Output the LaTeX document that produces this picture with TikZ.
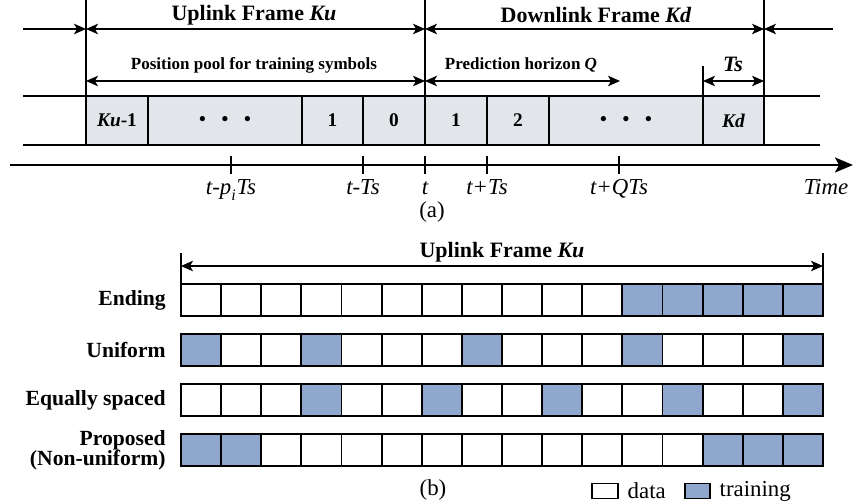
\documentclass[tikz,border=0pt]{standalone}
\usepackage{fontspec}
\setmainfont{Liberation Serif}
\usepackage{xcolor}
\usepackage{tikz}
\usetikzlibrary{
    positioning,
    arrows.meta,
    calc
}
\definecolor{slotgray}{RGB}{226,229,234}
\definecolor{trainblue}{RGB}{143,166,205}
\newcommand{\pxl}{0.02cm}
\tikzset{
  dim/.style = {
      line width=0.7pt,
      >={Stealth[length=2.4mm,width=2.1mm,inset=0.6mm]}
  },
  frameline/.style = {
      line width=0.7pt
  },
  slot/.style = {
      draw,
      line width=0.7pt,
      rectangle,
      fill=slotgray,
      inner sep=0pt,
      outer sep=0pt,
      minimum height=49*\pxl,
      font=\fontsize{11}{13}\selectfont\bfseries
  },
  cell/.style = {
      draw,
      line width=1.1pt,
      rectangle,
      inner sep=0pt,
      outer sep=0pt,
      minimum width=40.125*\pxl,
      minimum height=32*\pxl
  },
  cell0/.style = {
      cell,
      fill=white
  },
  cell1/.style = {
      cell,
      fill=trainblue
  },
  framelabel/.style = {
      font=\fontsize{12.5}{14}\selectfont\bfseries
  },
  poollabel/.style = {
      font=\fontsize{9.7}{11}\selectfont\bfseries
  },
  ticklabel/.style = {
      font=\fontsize{13}{15}\selectfont\itshape,
      anchor=base
  },
  rowlabel/.style = {
      font=\fontsize{12.3}{11.5}\selectfont\bfseries,
      align=right,
      anchor=east,
      inner sep=0pt
  },
  caption/.style = {
      font=\fontsize{13}{15}\selectfont
  }
}

\begin{document}
\begin{tikzpicture}[x=0.02cm, y=-0.02cm]
    \useasboundingbox (0,0) rectangle (856,503);
    % Frame borders
    \coordinate (f0t) at (86,0);   \coordinate (f0b) at (86,145);
    \coordinate (f1t) at (425,0);  \coordinate (f1b) at (425,145);
    \coordinate (f2t) at (764,0);  \coordinate (f2b) at (764,145);
    \coordinate (tst) at (703,66); \coordinate (tsb) at (703,145);
    \draw[frameline] (f0t) -- (f0b) (f1t) -- (f1b) (f2t) -- (f2b) (tst) -- (tsb);
    % Frame arrows
    \coordinate (a0) at (23,29);
    \coordinate (a1) at (86,29);
    \coordinate (a2) at (425,29);
    \coordinate (a3) at (764,29);
    \coordinate (a4) at (833,29);
    \path[dim]
    (a0) edge[->] (a1)
    (a1) edge[<->] (a2)
    (a2) edge[<->] (a3)
    (a4) edge[->] (a3);
    \node[framelabel] (uplink) at (254,15) {Uplink Frame \textit{Ku}};
    \node[framelabel] (downlink) at (596,15) {Downlink Frame \textit{Kd}};
    % Pool, horizon and symbol period
    \coordinate (p0) at (86,81);
    \coordinate (p1) at (425,81);
    \coordinate (q1) at (620,81);
    \coordinate (ts0) at (703,81);
    \coordinate (ts1) at (764,81);
    \path[dim]
    (p0) edge[<->] (p1)
    (p1) edge[<->] (q1)
    (ts0) edge[<->] (ts1);
    \node[poollabel] (pool) at (254,65) {Position pool for training symbols};
    \node[poollabel] (horizon) at (521,65) {Prediction horizon \textit{Q}};
    \node[framelabel] (tslab) at (733,64) {\textit{Ts}};
    % Symbol slots
    \foreach \l/\r/\txt [count=\i] in {
        86/148/{\textit{Ku}-1},
        148/302/{\textbullet\hspace{9pt}\textbullet\hspace{9pt}\textbullet},
        302/363/1,
        363/425/0,
        425/487/1,
        487/549/2,
        549/703/{\textbullet\hspace{9pt}\textbullet\hspace{9pt}\textbullet},
        703/764/{\textit{Kd}}}
      \node[slot, minimum width={(\r-\l)*\pxl}, anchor=north west] (s\i) at (\l,96) {\txt};
    \coordinate (rt0) at (23,96);  \coordinate (rt1) at (820,96);
    \coordinate (rb0) at (23,145); \coordinate (rb1) at (820,145);
    \draw[frameline] (rt0) -- (rt1) (rb0) -- (rb1);
    % Time axis
    \coordinate (t0) at (10,165);
    \coordinate (t1) at (853,165);
    \draw[line width=1.3pt, -{Stealth[length=3.6mm,width=3mm,inset=0.8mm]}] (t0) -- (t1);
    \foreach \x/\txt [count=\i] in {
        231/{t-p\textsubscript{\raisebox{-1.5pt}{i}}Ts},
        363/{t-Ts},
        425/t,
        487/{t+Ts},
        619/{t+QTs}} {
      \coordinate (k\i) at (\x,165);
      \draw[frameline] ($(k\i)+(0,-9)$) -- ($(k\i)+(0,9)$);
      \node[ticklabel] (kl\i) at (\x,195) {\txt};
    }
    \node[ticklabel] (time) at (826,195) {Time};
    \node[caption] (capa) at (432,212) {(a)};

    % Uplink frame layouts
    \coordinate (u0t) at (181,253); \coordinate (u0b) at (181,284);
    \coordinate (u1t) at (823,253); \coordinate (u1b) at (823,284);
    \draw[frameline] (u0t) -- (u0b) (u1t) -- (u1b);
    \coordinate (u0) at (181,266);
    \coordinate (u1) at (823,266);
    \path[dim] (u0) edge[<->] (u1);
    \node[framelabel] (uplinkb) at (502,252) {Uplink Frame \textit{Ku}};
    \foreach \pat/\y/\lab [count=\r] in {
        {0,0,0,0,0,0,0,0,0,0,0,1,1,1,1,1}/284/{Ending},
        {1,0,0,1,0,0,0,1,0,0,0,1,0,0,0,1}/334/{Uniform},
        {0,0,0,1,0,0,1,0,0,1,0,0,1,0,0,1}/384/{Equally spaced},
        {1,1,0,0,0,0,0,0,0,0,0,0,0,1,1,1}/434/{Proposed\\(Non-uniform)}} {
      \edef\rowpat{\pat}
      \foreach \v [count=\c] in \rowpat
        \node[cell\v, anchor=north west] (r\r-\c) at ({181+(\c-1)*40.125},\y) {};
      \node[rowlabel] (lab\r) at (166,\y+16) {\lab};
    }
    % Legend
    \node[cell0, line width=0.9pt, minimum width=26*\pxl, minimum height=15*\pxl, anchor=west] (legdata) at (592,491) {};
    \node[caption, right=2pt of legdata] (datatxt) {data};
    \node[cell1, line width=0.9pt, minimum width=25*\pxl, minimum height=15*\pxl, anchor=west] (legtrain) at (685,491) {};
    \node[caption, right=2pt of legtrain] (traintxt) {training};
    \node[caption] (capb) at (433,490) {(b)};
\end{tikzpicture}
\end{document}
